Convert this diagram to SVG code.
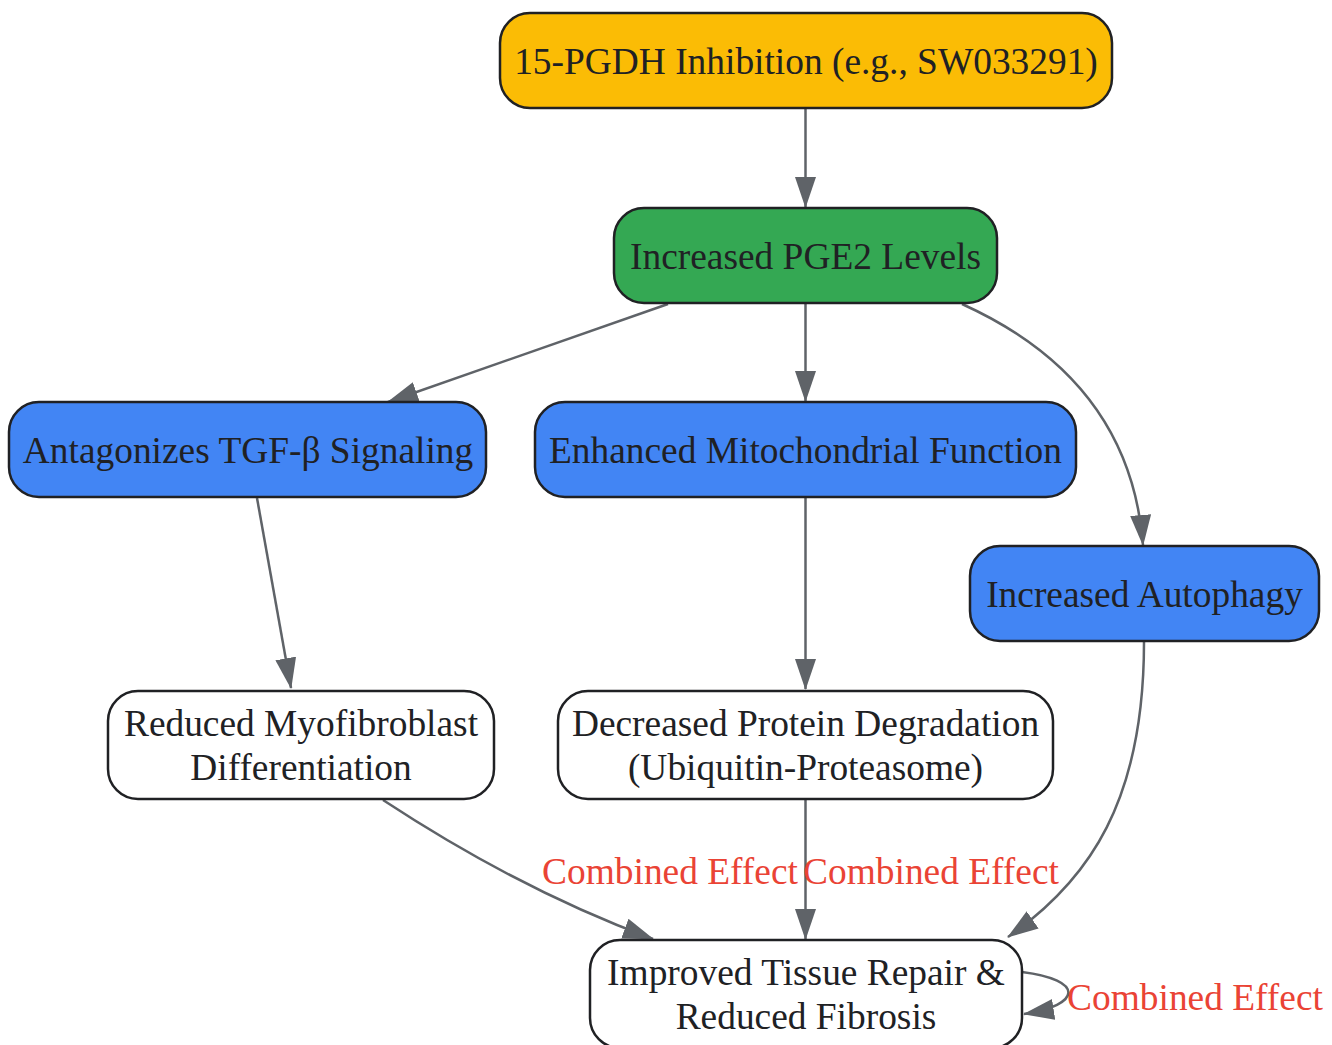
<svg xmlns="http://www.w3.org/2000/svg" width="1332" height="1045" viewBox="0 0 1332 1045">
<style>
.n{stroke:#202124;stroke-width:2.5}
.t{font-family:"Liberation Serif","Times New Roman",serif;font-size:37.4px;fill:#202124;text-anchor:middle}
.e{fill:none;stroke:#5F6368;stroke-width:2.5}
.l{font-family:"Liberation Serif","Times New Roman",serif;font-size:37.4px;fill:#EA4335;text-anchor:middle}
</style>
<defs>
<marker id="ah" markerWidth="31" markerHeight="21" refX="30" refY="10.5" orient="auto" markerUnits="userSpaceOnUse">
<path d="M0,0 L31,10.5 L0,21 z" fill="#5F6368"/>
</marker>
</defs>
<rect width="1332" height="1045" fill="#ffffff"/>
<g id="connectors">
<path class="e" d="M805.5,108 L805.5,207" marker-end="url(#ah)"/>
<path class="e" d="M668,304 L388,402" marker-end="url(#ah)"/>
<path class="e" d="M805.5,303 L805.5,401" marker-end="url(#ah)"/>
<path class="e" d="M962,304 Q1130,380 1143,545" marker-end="url(#ah)"/>
<path class="e" d="M257,498 L291,688" marker-end="url(#ah)"/>
<path class="e" d="M805.5,498 L805.5,689" marker-end="url(#ah)"/>
<path class="e" d="M383,800 Q520,890 653,939" marker-end="url(#ah)"/>
<path class="e" d="M805.5,799 L805.5,939" marker-end="url(#ah)"/>
<path class="e" d="M1144,642 C1144,800 1090,880 1008,937" marker-end="url(#ah)"/>
<path class="e" d="M1022,972 C1085,980 1082,1005 1024,1014" marker-end="url(#ah)"/>
<text class="l" x="670" y="884">Combined Effect</text>
<text class="l" x="931" y="884">Combined Effect</text>
<text class="l" x="1195" y="1010">Combined Effect</text>
</g>
<g id="n1">
<rect class="n" x="500" y="13" width="612" height="95" rx="30" fill="#FBBC05"/>
<text class="t" x="806" y="74">15-PGDH Inhibition (e.g., SW033291)</text>
</g>
<g id="n2">
<rect class="n" x="614" y="208" width="383" height="95" rx="30" fill="#34A853"/>
<text class="t" x="805.5" y="269">Increased PGE2 Levels</text>
</g>
<g id="n3">
<rect class="n" x="9" y="402" width="477" height="95" rx="30" fill="#4285F4"/>
<text class="t" x="248" y="463">Antagonizes TGF-β Signaling</text>
</g>
<g id="n4">
<rect class="n" x="535" y="402" width="541" height="95" rx="30" fill="#4285F4"/>
<text class="t" x="805.5" y="463">Enhanced Mitochondrial Function</text>
</g>
<g id="n5">
<rect class="n" x="970" y="546" width="349" height="95" rx="30" fill="#4285F4"/>
<text class="t" x="1144.5" y="607">Increased Autophagy</text>
</g>
<g id="n6">
<rect class="n" x="108" y="691" width="386" height="108" rx="30" fill="#ffffff"/>
<text class="t" x="301" y="736">Reduced Myofibroblast</text>
<text class="t" x="301" y="780">Differentiation</text>
</g>
<g id="n7">
<rect class="n" x="558" y="691" width="495" height="108" rx="30" fill="#ffffff"/>
<text class="t" x="805.5" y="736">Decreased Protein Degradation</text>
<text class="t" x="805.5" y="780">(Ubiquitin-Proteasome)</text>
</g>
<g id="n8">
<rect class="n" x="590" y="940" width="432" height="108" rx="30" fill="#ffffff"/>
<text class="t" x="806" y="985">Improved Tissue Repair &amp;</text>
<text class="t" x="806" y="1029">Reduced Fibrosis</text>
</g>
</svg>
